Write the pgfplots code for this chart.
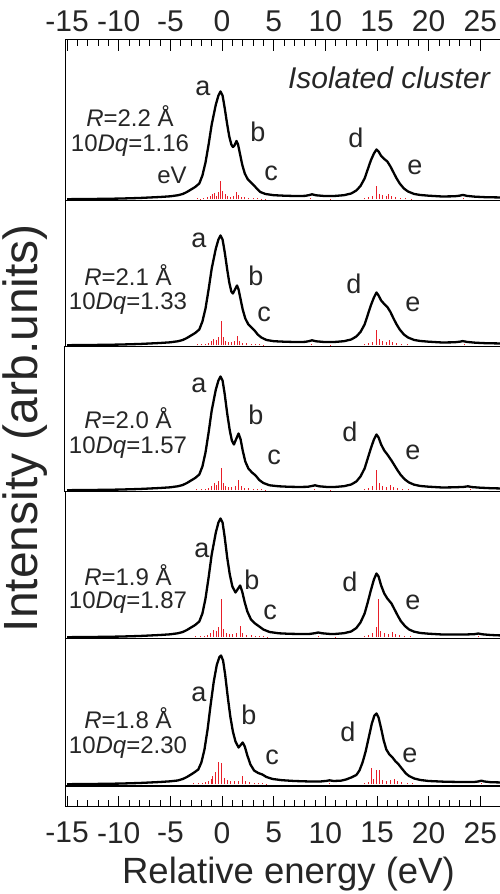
\documentclass[border=0pt]{standalone}
\usepackage{pgfplots}
\pgfplotsset{compat=1.18}
\usepackage{fontspec}
\setmainfont{Liberation Sans}
\definecolor{stick}{RGB}{232,30,40}
\pgfplotsset{
  panel/.style={scale only axis, width=436.5pt, xmin=-15.2, xmax=27.05,
    ytick=\empty, xtick=\empty, ymin=-1.5,
    axis line style={line width=1pt}, anchor=south west, clip=true},
  curve/.style={black, line width=2.3pt, no markers, line join=round},
  sticks/.style={ycomb, stick, line width=0.9pt, no markers},
  tk/.style={xtick={-15,-10,...,25}, minor x tick num=4,
    xticklabels={-15,-10,-5,0,5,10,15,20,25},
    tick align=inside, major tick length=11pt, minor tick length=6.5pt,
    every tick/.style={black, line width=0.8pt},
    xticklabel style={font=\fontsize{30}{30}\selectfont, inner sep=0pt, text=black!85}}
}
\newcommand{\sep}{\draw[line width=2pt] (rel axis cs:0,0) -- (rel axis cs:1,0);}
\begin{document}
\begin{tikzpicture}
\useasboundingbox (0,0) rectangle (500pt,894pt);
% ---------------- panel 1 ----------------
\begin{axis}[panel, at={(65pt,693pt)}, height=161pt, ymax=159.5, tk,
  xtick pos=upper, xticklabel pos=upper, xticklabel shift=8pt]
\addplot[sticks] coordinates {(-2.4,1)(-2.1,0.8)(-1.8,1)(-1.4,2)(-1.1,3)(-0.9,5)(-0.7,6)(-0.5,3)(-0.3,7)(-0.12,18)(0.05,8)(0.3,5)(0.5,3)(0.8,2.5)(1.1,3.5)(1.35,7)(1.55,4)(1.9,2.5)(2.2,2)(2.6,1.5)(3.0,1.2)(3.4,1)(3.8,0.8)(4.2,0.6)(8.6,1.5)(10.5,0.8)(13.8,1)(14.2,2)(14.6,3)(14.95,13)(15.2,5)(15.5,4)(15.9,3.5)(16.1,5)(16.4,3.5)(16.8,2)(17.3,1.5)(17.8,1)(18.3,0.8)(23.4,1.5)};
\addplot[curve] coordinates {(-15,0.3)(-12,0.6)(-10,0.9)(-8,1.5)(-6,2.5)(-5,3.2)(-4.3,4.2)(-3.8,5.5)(-3.4,7.5)(-3.0,10)(-2.6,12.5)(-2.2,16)(-1.9,24)(-1.6,37)(-1.3,55)(-1.0,75)(-0.6,95)(-0.35,104)(-0.15,108)(0.05,104)(0.25,92)(0.5,75)(0.7,63)(0.9,55)(1.05,52.5)(1.2,54)(1.4,58.5)(1.55,55)(1.75,45)(1.95,35)(2.2,26)(2.5,20)(2.8,17)(3.1,14)(3.4,10.5)(3.7,7.5)(4.2,5.5)(5,4.3)(6,3.8)(7,3.5)(8,3.6)(8.4,4.3)(8.7,5.2)(9.1,4.2)(10,3.4)(11,3.6)(11.8,4.3)(12.5,6)(13,9)(13.4,13.5)(13.8,21)(14.1,30)(14.4,39)(14.7,46)(14.95,50)(15.15,48)(15.4,43.5)(15.7,40.5)(16.0,38)(16.3,33)(16.6,27)(16.9,21)(17.2,16)(17.6,11)(18.0,8)(18.6,5.5)(19.2,4.5)(20,3.8)(21.3,3)(22.5,3.2)(23.0,3.8)(23.3,4.6)(23.7,3.6)(24.5,2.8)(25.5,2.3)(27.1,2)};
\sep
\end{axis}
% ---------------- panel 2 ----------------
\begin{axis}[panel, at={(65pt,547pt)}, height=146pt, ymax=144.5]
\addplot[sticks] coordinates {(-2.4,1)(-2.0,1)(-1.6,1.5)(-1.3,2.5)(-1.0,4)(-0.8,6)(-0.55,5)(-0.3,8)(-0.1,24)(0.1,8)(0.35,4)(0.6,3)(0.9,3)(1.2,4)(1.45,9)(1.7,4)(2.0,2.5)(2.4,2)(2.8,1.5)(3.2,1.2)(3.6,1)(4.0,0.8)(8.7,1.5)(10.5,0.8)(13.8,1)(14.2,2)(14.6,3.5)(14.95,15)(15.2,6)(15.5,4)(15.9,3.5)(16.2,5)(16.5,3.5)(16.9,2)(17.4,1.5)(17.9,1)(23.5,1.3)};
\addplot[curve] coordinates {(-15,0.3)(-12,0.6)(-10,0.9)(-8,1.5)(-6,2.5)(-5,3.2)(-4.3,4.2)(-3.8,5.5)(-3.4,7.5)(-3.0,10)(-2.6,12.5)(-2.2,16)(-1.9,24)(-1.6,37)(-1.3,56)(-1.0,77)(-0.6,97)(-0.35,106)(-0.15,110)(0.05,106)(0.25,94)(0.5,76)(0.7,63)(0.9,54)(1.05,52)(1.2,55)(1.45,60)(1.6,56)(1.8,46)(2.0,36)(2.25,27)(2.55,21)(2.85,18)(3.15,15)(3.45,11)(3.8,8)(4.3,5.5)(5,4.3)(6,3.8)(7,3.5)(8,3.6)(8.4,4.3)(8.7,5.2)(9.1,4.2)(10,3.4)(11,3.6)(11.8,4.3)(12.5,6)(13,9)(13.4,13.5)(13.8,21)(14.1,30.5)(14.4,40)(14.7,48)(14.95,53)(15.15,50)(15.4,45)(15.7,41.5)(16.0,38.5)(16.3,33.5)(16.6,27)(16.9,21)(17.2,16)(17.6,11)(18.0,8)(18.6,5.5)(19.2,4.5)(20,3.8)(21.3,3)(22.5,3.2)(23.0,3.8)(23.3,4.4)(23.7,3.6)(24.5,2.8)(25.5,2.3)(27.1,2)};
\sep
\end{axis}
% ---------------- panel 3 ----------------
\begin{axis}[panel, at={(65pt,402pt)}, height=145pt, ymax=143.5,
  ylabel={Intensity (arb.units)},
  ylabel style={at={(axis description cs:-0.0916,0.44)}, anchor=center,
    font=\fontsize{48}{48}\selectfont, inner sep=0pt, text=black!85}]
\addplot[sticks] coordinates {(-2.5,1)(-2.0,1)(-1.6,1.5)(-1.3,2.5)(-1.0,4)(-0.75,7)(-0.5,5)(-0.3,9)(-0.1,22)(0.1,7)(0.35,4)(0.6,3)(0.9,3)(1.3,4)(1.6,10)(1.85,4)(2.2,2.5)(2.6,2)(3.0,1.5)(3.4,1.2)(3.8,1)(4.2,0.8)(8.9,1.5)(10.5,0.8)(13.8,1)(14.2,2)(14.6,4)(14.95,20)(15.2,7)(15.5,4)(15.9,3.5)(16.3,5)(16.6,3.5)(17.0,2)(17.5,1.5)(18.0,1)(24.0,1.3)};
\addplot[curve] coordinates {(-15,0.3)(-12,0.6)(-10,0.9)(-8,1.5)(-6,2.5)(-5,3.2)(-4.3,4.2)(-3.8,5.5)(-3.4,7.5)(-3.0,10)(-2.6,12.5)(-2.2,16)(-1.9,24)(-1.6,38)(-1.3,58)(-1.0,80)(-0.6,101)(-0.35,110)(-0.15,114)(0.05,110)(0.25,97)(0.5,77)(0.75,60)(0.95,50)(1.15,46)(1.35,51)(1.6,57)(1.8,51)(2.0,40)(2.25,29)(2.55,22)(2.9,18)(3.25,15)(3.6,10.5)(4.0,7.5)(4.6,5.2)(5.5,4.2)(6.5,3.7)(7.5,3.5)(8.3,3.7)(8.7,4.5)(9.0,5.2)(9.4,4.2)(10.3,3.4)(11,3.6)(11.8,4.3)(12.5,6)(13,9)(13.4,14)(13.8,22)(14.1,32)(14.4,42)(14.7,51)(14.95,56)(15.15,53)(15.4,46)(15.7,40)(16.0,36)(16.4,30)(16.7,25)(17.0,20)(17.3,15.5)(17.7,11)(18.1,8)(18.6,5.8)(19.2,4.5)(20,3.8)(21.3,3)(22.5,3.2)(23.4,3.6)(23.8,4.2)(24.2,3.4)(25,2.8)(26,2.3)(27.1,2)};
\sep
\end{axis}
% ---------------- panel 4 ----------------
\begin{axis}[panel, at={(65pt,255pt)}, height=147pt, ymax=145.5]
\addplot[sticks] coordinates {(-2.6,1)(-2.1,1)(-1.7,1.5)(-1.4,2.5)(-1.1,4)(-0.8,7)(-0.55,6)(-0.3,10)(-0.05,38)(0.15,8)(0.4,4)(0.7,3)(1.0,3)(1.4,4)(1.75,11)(2.0,4)(2.4,2.5)(2.8,2)(3.2,1.5)(3.6,1.2)(4.0,1)(4.4,0.8)(9.3,1.5)(11,0.8)(13.8,1)(14.2,2)(14.6,4)(14.9,10)(15.1,38)(15.35,6)(15.7,4)(16.1,3.5)(16.5,5)(16.8,3.5)(17.2,2)(17.7,1.5)(18.2,1)(24.8,1.3)};
\addplot[curve] coordinates {(-15,0.3)(-12,0.6)(-10,0.9)(-8,1.5)(-6,2.5)(-5,3.2)(-4.3,4.2)(-3.8,5.5)(-3.4,7.5)(-3.0,10)(-2.6,12.5)(-2.2,16)(-1.9,24)(-1.6,39)(-1.3,60)(-1.0,83)(-0.6,105)(-0.35,115)(-0.15,119)(0.05,115)(0.25,101)(0.5,80)(0.75,63)(1.0,51)(1.3,45)(1.5,48)(1.75,52)(1.95,46)(2.2,35)(2.45,26)(2.8,18)(3.2,14)(3.6,11)(4.0,8)(4.6,5.5)(5.5,4.2)(6.5,3.7)(7.5,3.5)(8.5,3.6)(9.0,4.3)(9.3,5)(9.7,4.2)(10.5,3.5)(11,3.6)(11.8,4.3)(12.5,6)(13,9.5)(13.4,15)(13.8,24)(14.1,35)(14.4,47)(14.7,58)(14.95,64)(15.15,61)(15.4,52)(15.7,44)(16.0,39)(16.4,34)(16.7,28)(17.0,22)(17.3,16.5)(17.7,11.5)(18.1,8)(18.6,5.8)(19.2,4.5)(20,3.8)(21.3,3)(22.5,3)(23.5,3)(24.4,3.3)(24.8,4)(25.2,3.2)(26,2.5)(27.1,2)};
\sep
\end{axis}
% ---------------- panel 5 ----------------
\begin{axis}[panel, at={(65pt,108pt)}, height=147pt, ymax=145.5]
\addplot[sticks] coordinates {(-2.8,1)(-2.3,1)(-1.9,1.5)(-1.6,2.5)(-1.3,3)(-1.0,5)(-0.9,8)(-0.6,12)(-0.36,22)(-0.1,21)(0.2,6)(0.5,4)(0.8,3)(1.2,3)(1.6,3)(2.0,8)(2.3,3)(2.7,2)(3.1,1.5)(3.5,1.2)(3.9,1)(4.3,0.8)(10.4,1.5)(13.8,1)(14.2,2)(14.5,16)(14.7,5)(14.9,14)(15.2,14)(15.5,4)(15.9,3)(16.3,4)(16.7,5)(17.0,3)(17.4,2)(17.9,1.5)(18.4,1)(25.1,1.3)};
\addplot[curve] coordinates {(-15,0.3)(-12,0.6)(-10,0.9)(-8,1.5)(-6,2.5)(-5,3.2)(-4.3,4)(-3.8,5.5)(-3.4,7.5)(-3.0,10)(-2.7,12)(-2.3,15)(-2.0,22)(-1.7,35)(-1.4,55)(-1.1,80)(-0.8,103)(-0.5,120)(-0.25,127.5)(-0.1,129)(0.1,124)(0.3,110)(0.55,88)(0.8,68)(1.05,53)(1.3,43)(1.6,37)(1.8,39.5)(2.0,42)(2.2,38)(2.45,29)(2.75,20)(3.1,14)(3.5,11.5)(3.9,10)(4.3,7.5)(4.9,5.5)(5.8,4.3)(7,3.5)(8.5,3)(9.5,3)(10.1,3.6)(10.4,4.2)(10.8,3.5)(11.5,3.8)(12.0,5)(12.5,7)(13.0,9.5)(13.3,14)(13.6,22)(13.9,33)(14.2,47)(14.5,61)(14.75,69)(14.95,71)(15.15,67)(15.4,56)(15.65,44)(15.9,35)(16.2,30)(16.5,27)(16.8,23)(17.1,20)(17.4,16)(17.8,11)(18.1,8.5)(18.6,6)(19.2,4.5)(20,3.5)(21.5,2.8)(23,2.5)(24.4,2.5)(24.8,3)(25.1,3.8)(25.4,3)(26,2.3)(27.1,2)};
\sep
\end{axis}
% ---------------- bottom tick strip ----------------
\begin{axis}[panel, at={(65pt,87pt)}, height=21pt, ymin=0, ymax=1, tk,
  xtick pos=lower, xticklabel pos=lower, xticklabel shift=15pt,
  xlabel={Relative energy (eV)},
  xlabel style={at={(axis description cs:0.512,0)}, anchor=base, yshift=-76pt,
    font=\fontsize{36.5}{36.5}\selectfont, inner sep=0pt, text=black!85}]
\end{axis}
% ---------------- annotations ----------------
\begin{scope}[every node/.style={inner sep=0pt, text=black!85}]
\node[anchor=east, font=\fontsize{30}{30}\selectfont\itshape] at (490pt,816pt) {Isolated cluster};
\begin{scope}[font=\fontsize{27}{27}\selectfont]
\node at (203pt,806pt) {a}; \node at (258pt,762pt) {b}; \node at (271pt,721pt) {c};
\node at (356pt,756pt) {d}; \node at (415pt,727pt) {e};
\node at (199pt,654pt) {a}; \node at (256pt,618pt) {b}; \node at (264pt,580pt) {c};
\node at (354pt,610pt) {d}; \node at (413pt,590pt) {e};
\node at (199pt,509pt) {a}; \node at (256pt,479pt) {b}; \node at (274pt,437pt) {c};
\node at (350pt,462pt) {d}; \node at (413pt,442pt) {e};
\node at (202pt,344pt) {a}; \node at (252pt,314pt) {b}; \node at (270pt,282pt) {c};
\node at (350pt,312pt) {d}; \node at (413pt,292pt) {e};
\node at (199pt,200pt) {a}; \node at (249pt,179pt) {b}; \node at (272pt,137pt) {c};
\node at (348pt,162pt) {d}; \node at (410pt,139pt) {e};
\end{scope}
\begin{scope}[font=\fontsize{24}{24}\selectfont]
\node at (130pt,778pt) {\textit{R}=2.2 Å}; \node at (130pt,748pt) {10\textit{Dq}=1.16}; \node at (172pt,719pt) {eV};
\node at (128pt,619pt) {\textit{R}=2.1 Å}; \node at (128pt,590pt) {10\textit{Dq}=1.33};
\node at (128pt,476pt) {\textit{R}=2.0 Å}; \node at (128pt,446pt) {10\textit{Dq}=1.57};
\node at (128pt,319pt) {\textit{R}=1.9 Å}; \node at (128pt,291pt) {10\textit{Dq}=1.87};
\node at (128pt,176pt) {\textit{R}=1.8 Å}; \node at (128pt,146pt) {10\textit{Dq}=2.30};
\end{scope}
\end{scope}
\end{tikzpicture}
\end{document}
